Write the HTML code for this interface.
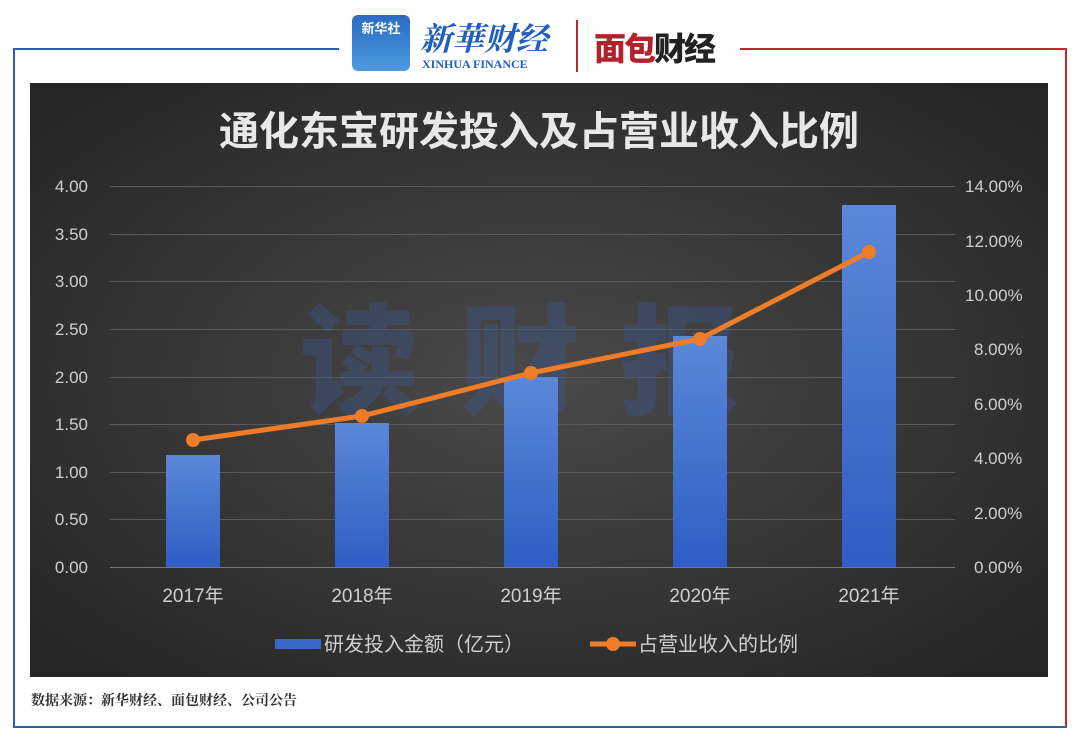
<!DOCTYPE html>
<html><head><meta charset="utf-8"><style>
body{margin:0;width:1080px;height:741px;background:#fff;position:relative;overflow:hidden;font-family:"Liberation Sans","Noto Sans CJK SC",sans-serif}
.abs{position:absolute}
</style></head><body>
<div class="abs" style="left:13px;top:48px;width:326px;height:2px;background:#2f5fa8"></div>
<div class="abs" style="left:740px;top:48px;width:327px;height:2px;background:#c0282d"></div>
<div class="abs" style="left:13px;top:48px;width:2px;height:680px;background:#2f5fa8"></div>
<div class="abs" style="left:1065px;top:48px;width:2px;height:680px;background:#c0282d"></div>
<div class="abs" style="left:13px;top:726px;width:1054px;height:2px;background:#2f5fa8"></div>
<div class="abs" style="left:352px;top:15px;width:58px;height:56px;border-radius:6px;background:linear-gradient(#2c6bc0,#4b9ae0);color:#fff;font-size:13px;font-weight:bold;text-align:center;line-height:28px">新华社</div>
<div class="abs" style="left:420px;top:14px;font-size:32px;font-weight:bold;color:#1f5fbf;font-family:'Noto Serif CJK SC',serif;font-style:italic">新華财经</div>
<div class="abs" style="left:422px;top:57px;font-size:12px;color:#1f5fbf;font-family:'Liberation Serif',serif;font-weight:bold">XINHUA FINANCE</div>
<div class="abs" style="left:576px;top:20px;width:2px;height:52px;background:#c0282d"></div>
<div class="abs" style="left:594px;top:24px;font-size:32px;font-weight:900;color:#b0232a;letter-spacing:-2px">面包<span style="color:#222">财经</span></div>
<svg class="abs" style="left:0;top:0" width="1080" height="741" font-family="Liberation Sans, Noto Sans CJK SC, sans-serif">
<defs>
<radialGradient id="bg" cx="50%" cy="50%" r="65%"><stop offset="0" stop-color="#4a4a4a"/><stop offset="1" stop-color="#262626"/></radialGradient>
<linearGradient id="bar" x1="0" y1="0" x2="0" y2="1"><stop offset="0" stop-color="#5b88d8"/><stop offset="1" stop-color="#2e5ec4"/></linearGradient>
</defs>
<rect x="30" y="83" width="1018" height="594" fill="url(#bg)"/>
<text x="539" y="145" text-anchor="middle" font-size="40" font-weight="bold" fill="#e8e8e8">通化东宝研发投入及占营业收入比例</text>
<g stroke="#5a5a5a" stroke-width="1">
<line x1="110" x2="955" y1="186.5" y2="186.5"/><line x1="110" x2="955" y1="234.5" y2="234.5"/>
<line x1="110" x2="955" y1="281.5" y2="281.5"/><line x1="110" x2="955" y1="329.5" y2="329.5"/>
<line x1="110" x2="955" y1="377.5" y2="377.5"/><line x1="110" x2="955" y1="424.5" y2="424.5"/>
<line x1="110" x2="955" y1="472.5" y2="472.5"/><line x1="110" x2="955" y1="519.5" y2="519.5"/>
<line x1="110" x2="955" y1="567.5" y2="567.5" stroke="#777"/>
</g>
<text x="540" y="405" text-anchor="middle" font-size="120" font-weight="900" fill="#3a5a9a" opacity="0.35" letter-spacing="40">读财报</text>
<g fill="url(#bar)">
<rect x="166" y="455" width="54" height="112"/><rect x="335" y="423" width="54" height="144"/>
<rect x="504" y="377" width="54" height="190"/><rect x="673" y="336" width="54" height="231"/>
<rect x="842" y="205" width="54" height="362"/>
</g>
<polyline points="193,440 362,416 531,373 700,339 869,252" fill="none" stroke="#f07c28" stroke-width="5" stroke-linejoin="round"/>
<g fill="#f07c28"><circle cx="193" cy="440" r="7"/><circle cx="362" cy="416" r="7"/><circle cx="531" cy="373" r="7"/><circle cx="700" cy="339" r="7"/><circle cx="869" cy="252" r="7"/></g>
<g font-size="17" fill="#cfcfcf" text-anchor="end">
<text x="88" y="192">4.00</text><text x="88" y="240">3.50</text><text x="88" y="287">3.00</text><text x="88" y="335">2.50</text><text x="88" y="383">2.00</text><text x="88" y="430">1.50</text><text x="88" y="478">1.00</text><text x="88" y="525">0.50</text><text x="88" y="573">0.00</text>
</g>
<g font-size="17" fill="#cfcfcf" text-anchor="start">
<text x="965" y="192">14.00%</text><text x="965" y="247">12.00%</text><text x="965" y="301">10.00%</text><text x="974" y="355">8.00%</text><text x="974" y="410">6.00%</text><text x="974" y="464">4.00%</text><text x="974" y="519">2.00%</text><text x="974" y="573">0.00%</text>
</g>
<g font-size="19" fill="#cfcfcf" text-anchor="middle">
<text x="193" y="602">2017年</text><text x="362" y="602">2018年</text><text x="531" y="602">2019年</text><text x="700" y="602">2020年</text><text x="869" y="602">2021年</text>
</g>
<rect x="275" y="639" width="46" height="10" fill="#3a68c8"/>
<text x="324" y="651" font-size="20" fill="#cfcfcf">研发投入金额（亿元）</text>
<line x1="590" x2="636" y1="644" y2="644" stroke="#f07c28" stroke-width="5"/>
<circle cx="613" cy="644" r="7" fill="#f07c28"/>
<text x="638" y="651" font-size="20" fill="#cfcfcf">占营业收入的比例</text>
<text x="31" y="705" font-size="14" font-weight="bold" fill="#333" font-family="Noto Serif CJK SC, serif">数据来源：新华财经、面包财经、公司公告</text>
</svg>
</body></html>
